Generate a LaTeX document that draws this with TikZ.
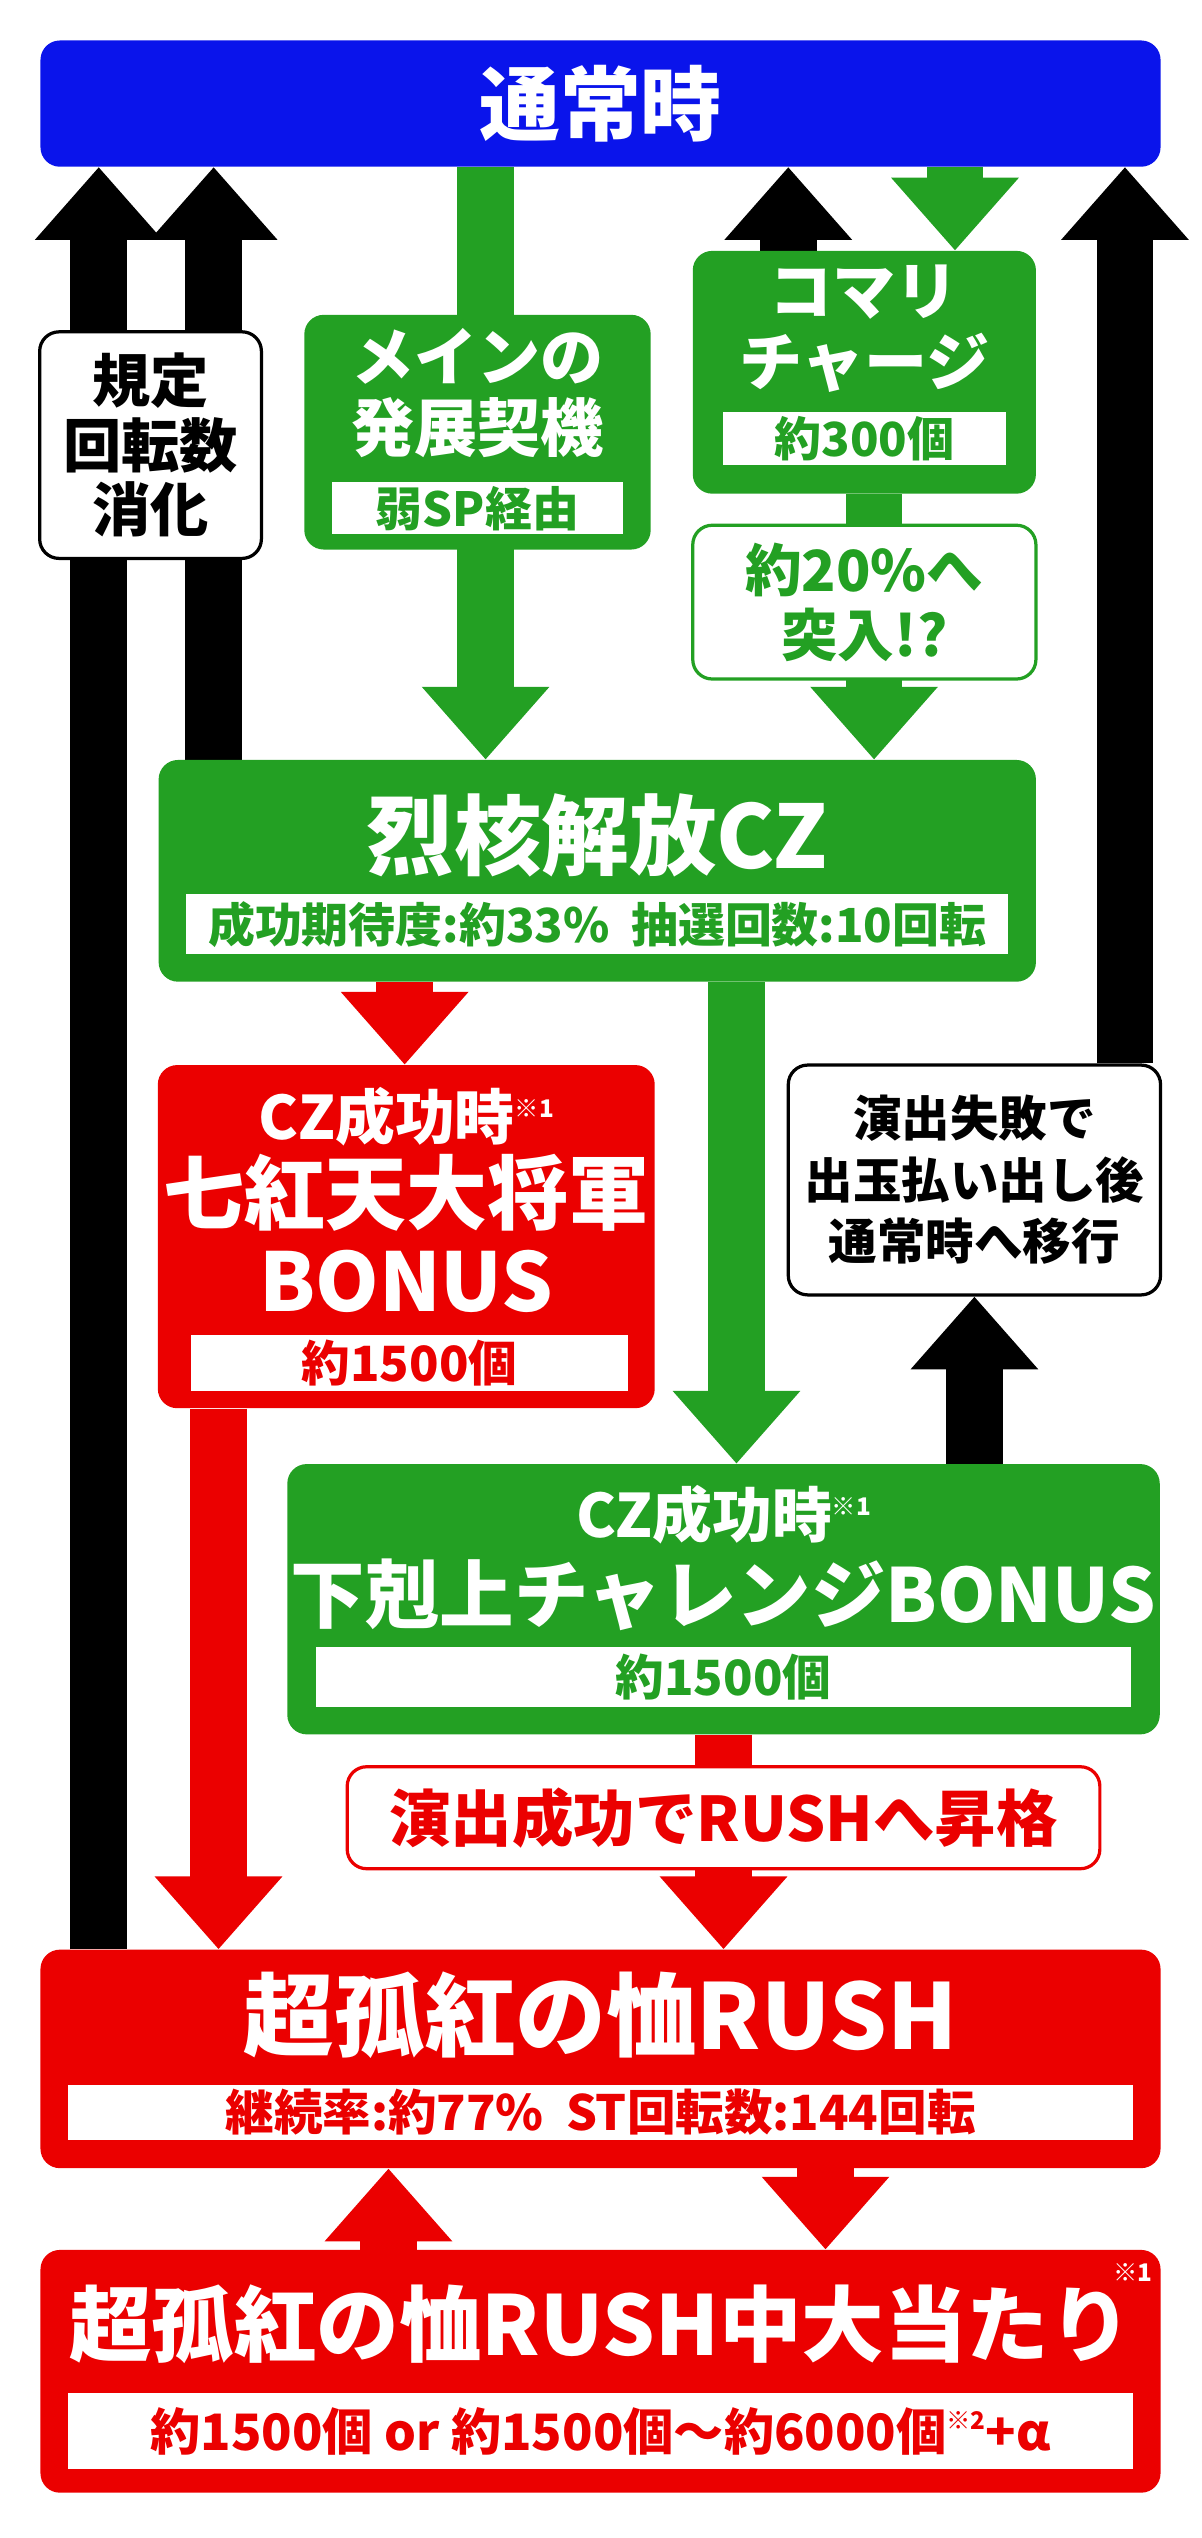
\documentclass[tikz,border=0pt]{standalone}
\usepackage{fontspec}
\setmainfont{Noto Sans CJK JP}
\usetikzlibrary{arrows.meta,backgrounds}
\definecolor{topblue}{RGB}{10,20,235}
\definecolor{czgreen}{RGB}{35,160,35}
\definecolor{rushred}{RGB}{235,0,0}
\tikzset{
  box/.style={rounded corners=12pt, inner sep=0pt, align=center, text=white, font=\bfseries},
  subbox/.style={fill=white, inner sep=0pt, font=\bfseries\fontsize{29}{30}\selectfont},
  notebox/.style={fill=white, rounded corners=12pt, line width=2pt, inner sep=0pt, align=center, font=\bfseries},
  fat/.style={line width=35pt, -{Triangle[length=45pt,width=76pt]}},
}
\newcommand{\fs}[1]{\fontsize{#1}{#1}\selectfont}
\begin{document}
\begin{tikzpicture}[x=1pt,y=-1pt]
\useasboundingbox (0,0) rectangle (742,1568);
% boxes
\node[box, fill=topblue, minimum width=692pt, minimum height=78pt, font=\bfseries\fs{50}] (top) at (371,64) {通常時};
\node[notebox, draw=black, minimum width=137pt, minimum height=140pt, font=\bfseries\fontsize{36}{40}\selectfont] (kitei) at (93,275) {規定\\回転数\\消化};

\node[box, fill=czgreen, minimum width=214pt, minimum height=145pt] (main) at (295,267) {};
\node[text=white, align=center, font=\bfseries\fontsize{39}{44}\selectfont] (maint) at (295,243) {メインの\\発展契機};
\node[subbox, text=czgreen, minimum width=180pt, minimum height=32pt] (mains) at (295,314) {弱SP経由};

\node[box, fill=czgreen, minimum width=212pt, minimum height=150pt] (komari) at (534,230) {};
\node[text=white, align=center, font=\bfseries\fontsize{39}{44}\selectfont] (komarit) at (534,203) {コマリ\\チャージ};
\node[subbox, text=czgreen, minimum width=175pt, minimum height=33pt] (komaris) at (534,271) {約300個};
\node[notebox, draw=czgreen, text=czgreen, minimum width=212pt, minimum height=95pt, font=\bfseries\fontsize{35}{40}\selectfont] (tot) at (534,372) {約20\%へ\\突入!?};

\node[box, fill=czgreen, minimum width=542pt, minimum height=137pt] (cz) at (369,538) {};
\node[text=white, font=\bfseries\fs{54}] (czt) at (369,516) {烈核解放CZ};
\node[subbox, text=czgreen, minimum width=508pt, minimum height=37pt] (czs) at (369,571) {成功期待度:約33\%\ \ 抽選回数:10回転};

\node[box, fill=rushred, minimum width=307pt, minimum height=212pt] (shichi) at (251,764) {};
\node[text=white, font=\bfseries\fs{37}] (shichia) at (251,690) {CZ成功時\raisebox{14pt}{\fs{15}※1}};
\node[text=white, align=center, font=\bfseries\fontsize{50}{54}\selectfont] (shichit) at (251,762) {七紅天大将軍\\BONUS};
\node[subbox, text=rushred, minimum width=270pt, minimum height=35pt, font=\bfseries\fs{30}] (shichis) at (253,842) {約1500個};

\node[notebox, draw=black, minimum width=230pt, minimum height=142pt, font=\bfseries\fontsize{30}{38}\selectfont] (fail) at (602,729) {演出失敗で\\出玉払い出し後\\通常時へ移行};

\node[box, fill=czgreen, minimum width=539pt, minimum height=167pt] (gekoku) at (447,988) {};
\node[text=white, font=\bfseries\fs{37}] (gekokua) at (447,936) {CZ成功時\raisebox{14pt}{\fs{15}※1}};
\node[text=white, font=\bfseries\fs{46}] (gekokut) at (447,985) {下剋上チャレンジBONUS};
\node[subbox, text=czgreen, minimum width=503pt, minimum height=37pt, font=\bfseries\fs{30}] (gekokus) at (447,1036) {約1500個};

\node[notebox, draw=rushred, text=rushred, minimum width=465pt, minimum height=63pt, font=\bfseries\fs{38}] (promo) at (447,1123) {演出成功でRUSHへ昇格};

\node[box, fill=rushred, minimum width=692pt, minimum height=135pt] (rush) at (371,1272) {};
\node[text=white, font=\bfseries\fs{56}] (rusht) at (371,1245) {超孤紅の恤RUSH};
\node[subbox, text=rushred, minimum width=658pt, minimum height=34pt, font=\bfseries\fs{30}] (rushs) at (371,1305) {継続率:約77\%\ \ ST回転数:144回転};

\node[box, fill=rushred, minimum width=692pt, minimum height=150pt] (atari) at (371,1465) {};
\node[text=white, font=\bfseries\fs{51}] (atarit) at (371,1436) {超孤紅の恤RUSH中大当たり};
\node[text=white, font=\bfseries\fs{15}] (atarin) at (700,1404) {※1};
\node[subbox, text=rushred, minimum width=658pt, minimum height=47pt, font=\bfseries\fs{31}] (atari s) at (371,1502) {約1500個 or 約1500個〜約6000個\raisebox{13pt}{\fs{15}※2}+α};

% columns
\coordinate (c1) at (61,0);
\coordinate (c2) at (132,0);
\coordinate (c3) at (135,0);
\coordinate (c4) at (240,0);
\coordinate (c5) at (250,0);
\coordinate (c6) at (300,0);
\coordinate (c7) at (447,0);
\coordinate (c8) at (455,0);
\coordinate (c9) at (487,0);
\coordinate (c10) at (510,0);
\coordinate (c11) at (540,0);
\coordinate (c12) at (590,0);
\coordinate (c13) at (602,0);
\coordinate (c14) at (695,0);

\begin{scope}[on background layer]
  \draw[fat, black] (rush.north -| c1) -- (top.south -| c1);
  \draw[fat, black] (cz.north -| c2) -- (top.south -| c2);
  \draw[fat, czgreen] (top.south -| c6) -- (cz.north -| c6);
  \draw[fat, black] (komari.north -| c9) -- (top.south -| c9);
  \draw[fat, czgreen] (top.south -| c12) -- (komari.north -| c12);
  \draw[fat, czgreen] (komari.south -| c11) -- (cz.north -| c11);
  \draw[fat, black] (fail.north -| c14) -- (top.south -| c14);
  \draw[fat, rushred] (cz.south -| c5) -- (shichi.north -| c5);
  \draw[fat, czgreen] (cz.south -| c8) -- (gekoku.north -| c8);
  \draw[fat, black] (gekoku.north -| c13) -- (fail.south -| c13);
  \draw[fat, rushred] (gekoku.south -| c7) -- (rush.north -| c7);
  \draw[fat, rushred] (shichi.south -| c3) -- (rush.north -| c3);
  \draw[fat, rushred] (atari.north -| c4) -- (rush.south -| c4);
  \draw[fat, rushred] (rush.south -| c10) -- (atari.north -| c10);
\end{scope}
\end{tikzpicture}
\end{document}
